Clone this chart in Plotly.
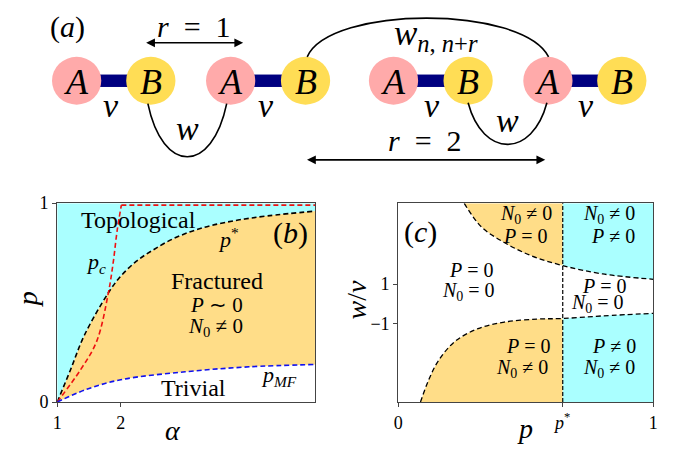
import plotly.graph_objects as go

W, H = 681, 456
FONT = "Liberation Serif"
CYAN = "#aaffff"
ORANGE = "#ffdd88"
PINK = "#ffaaaa"
YELLOW = "#ffdd55"
NAVY = "#000080"

# ---------------- Panel (b) data: phase diagram p vs alpha ----------------
alpha_pstar = [1.0, 1.207, 1.43, 1.804, 1.986, 2.244, 2.504, 2.815, 3.126, 3.437, 3.852, 4.318, 5.07]
p_pstar = [0.0, 0.16, 0.337, 0.548, 0.627, 0.707, 0.763, 0.819, 0.859, 0.888, 0.915, 0.936, 0.96]
alpha_pc = [1.0, 1.363, 1.622, 1.804, 1.882, 1.944, 2.011]
p_pc = [0.0, 0.16, 0.305, 0.545, 0.70, 0.86, 0.99]
alpha_pc_flat = [2.011, 5.07]
p_pc_flat = [0.99, 0.99]
alpha_mf = [1.0, 1.466, 2.0, 3.016, 4.026, 5.07]
p_mf = [0.0, 0.064, 0.112, 0.152, 0.177, 0.189]
alpha_range = [1.0, 5.07]
b_xticks = [1, 2]
b_yticks = [0, 1]

# ---------------- Panel (c) data: w/v vs p ----------------
p_star = 0.645
up_p = [0.259, 0.326, 0.416, 0.519, 0.645, 0.802, 1.0]
up_w = [5.06, 3.88, 3.09, 2.44, 1.93, 1.51, 1.24]
lo_p = [0.0875, 0.12, 0.158, 0.223, 0.313, 0.416, 0.544, 0.645, 0.802, 1.0]
lo_w = [-4.93, -3.81, -2.85, -1.88, -1.24, -0.91, -0.76, -0.73, -0.60, -0.47]
c_yrange = [-4.93, 5.07]
c_yticks = [1, -1]
c_yticklabels = ["1", "\u22121"]
c_xticks = [0, p_star, 1]
c_xticklabels = ["0", "<i>p</i><sup>*</sup>", "1"]

# ---------------- Panel (a) schematic layout (pixel units) ----------------
A_x = [72.7, 229.0, 394.3, 551.0]
B_x = [148.0, 305.0, 470.0, 626.0]
node_y = 74.0
node_r = 25.0
v_label_x = [108, 265, 433, 590]
v_label_y = 100
w_curves = [(145, 98, 225, 98, 172), (470, 97, 550, 97, 155)]
w_labels = [(185, 124), (510, 116)]

fig = go.Figure()

# ---- panel (b) fills ----
fig.add_trace(go.Scatter(x=alpha_mf, y=p_mf, mode="lines", line=dict(width=0, shape="spline"),
                         xaxis="x", yaxis="y", hoverinfo="skip", showlegend=False))
fig.add_trace(go.Scatter(x=alpha_pstar, y=p_pstar, mode="lines", line=dict(width=0, shape="spline"),
                         fill="tonexty", fillcolor=ORANGE, xaxis="x", yaxis="y", hoverinfo="skip", showlegend=False))
fig.add_trace(go.Scatter(x=alpha_pstar, y=p_pstar, mode="lines", line=dict(width=0, shape="spline"),
                         xaxis="x", yaxis="y", hoverinfo="skip", showlegend=False))
fig.add_trace(go.Scatter(x=alpha_range, y=[1, 1], mode="lines", line=dict(width=0),
                         fill="tonexty", fillcolor=CYAN, xaxis="x", yaxis="y", hoverinfo="skip", showlegend=False))
# ---- panel (b) lines ----
fig.add_trace(go.Scatter(x=alpha_pstar, y=p_pstar, mode="lines",
                         line=dict(color="black", width=1.6, dash="5px,3px", shape="spline"),
                         xaxis="x", yaxis="y", showlegend=False))
fig.add_trace(go.Scatter(x=alpha_pc, y=p_pc, mode="lines",
                         line=dict(color="#ee1111", width=1.6, dash="5px,3px", shape="spline"),
                         xaxis="x", yaxis="y", showlegend=False))
fig.add_trace(go.Scatter(x=alpha_pc_flat, y=p_pc_flat, mode="lines",
                         line=dict(color="#ee1111", width=1.6, dash="5px,3px"),
                         xaxis="x", yaxis="y", showlegend=False))
fig.add_trace(go.Scatter(x=alpha_mf, y=p_mf, mode="lines",
                         line=dict(color="#1111ee", width=1.6, dash="5px,3px", shape="spline"),
                         xaxis="x", yaxis="y", showlegend=False))

# ---- panel (c) fills ----
def split(ps, ws, left):
    xs, ys = [], []
    for p, w in zip(ps, ws):
        if (left and p <= p_star) or ((not left) and p >= p_star):
            xs.append(p)
            ys.append(w)
    return xs, ys

for left, color in [(True, ORANGE), (False, CYAN)]:
    xs, ys = split(up_p, up_w, left)
    fig.add_trace(go.Scatter(x=xs, y=[c_yrange[1]] * len(xs), mode="lines", line=dict(width=0),
                             xaxis="x2", yaxis="y2", hoverinfo="skip", showlegend=False))
    fig.add_trace(go.Scatter(x=xs, y=ys, mode="lines", line=dict(width=0, shape="spline"),
                             fill="tonexty", fillcolor=color, xaxis="x2", yaxis="y2",
                             hoverinfo="skip", showlegend=False))
    xs, ys = split(lo_p, lo_w, left)
    fig.add_trace(go.Scatter(x=xs, y=[c_yrange[0]] * len(xs), mode="lines", line=dict(width=0),
                             xaxis="x2", yaxis="y2", hoverinfo="skip", showlegend=False))
    fig.add_trace(go.Scatter(x=xs, y=ys, mode="lines", line=dict(width=0, shape="spline"),
                             fill="tonexty", fillcolor=color, xaxis="x2", yaxis="y2",
                             hoverinfo="skip", showlegend=False))

for xs, ys in [(up_p, up_w), (lo_p, lo_w)]:
    fig.add_trace(go.Scatter(x=xs, y=ys, mode="lines",
                             line=dict(color="black", width=1.3, dash="5px,3px", shape="spline"),
                             xaxis="x2", yaxis="y2", showlegend=False))

# dummy trace for overlay axis
fig.add_trace(go.Scatter(x=[0], y=[0], mode="markers", marker=dict(opacity=0),
                         xaxis="x3", yaxis="y3", hoverinfo="skip", showlegend=False))

shapes = []
# vertical p* line in (c)
shapes.append(dict(type="line", xref="x2", yref="y2 domain", x0=p_star, x1=p_star, y0=0, y1=1,
                   line=dict(color="black", width=1.2, dash="4px,2px")))

# ---- panel (a) schematic ----
def p3(**kw):
    d = dict(xref="x3", yref="y3")
    d.update(kw)
    return d

for ax_, bx_ in zip(A_x, B_x):
    shapes.append(p3(type="rect", x0=ax_ + node_r - 2, x1=bx_ - node_r + 2, y0=node_y - 6.5, y1=node_y + 6.5,
                     fillcolor=NAVY, line=dict(width=0)))
for xs_, col in [(A_x, PINK), (B_x, YELLOW)]:
    for cx in xs_:
        shapes.append(p3(type="circle", x0=cx - node_r, x1=cx + node_r, y0=node_y - node_r, y1=node_y + node_r,
                         fillcolor=col, line=dict(width=0)))
for (x0, y0, x1, y1, cy) in w_curves:
    shapes.append(p3(type="path", path=f"M {x0},{y0} C {x0+15},{cy} {x1-15},{cy} {x1},{y1}",
                     line=dict(color="black", width=1.6)))
# long-range hopping arc
shapes.append(p3(type="path", path="M 306.7,49 C 330,-5 525,-5 551.7,49",
                 line=dict(color="black", width=1.6)))

annotations = []
def txt(x, y, s, size, **kw):
    d = dict(x=x, y=y, xref="x3", yref="y3", text=s, showarrow=False,
             font=dict(family=FONT, size=size, color="black"), xanchor="center", yanchor="middle")
    d.update(kw)
    annotations.append(d)

NB = "\u00a0"
for cx in A_x:
    txt(cx, node_y + 1, "<i>A</i>", 36)
for cx in B_x:
    txt(cx, node_y + 1, "<i>B</i>", 36)
for vx in v_label_x:
    txt(vx, v_label_y, "<i>v</i>", 34)
for (wx, wy) in w_labels:
    txt(wx, wy, "<i>w</i>", 34)
txt(63, 18, "(<i>a</i>)", 30)
txt(192, 17, f"<i>r</i>{NB} ={NB} 1", 30)
txt(426.7, 137, f"<i>r</i>{NB} ={NB} 2", 30)
txt(437, 27, f"<i>w</i><sub><i>n</i>,{NB}<i>n</i>+<i>r</i></sub>", 35)

# arrows
for (xa, xb, ya) in [(141.7, 241.7, 34.3), (305.0, 548.3, 156.7)]:
    annotations.append(dict(x=xb, y=ya, ax=xa, ay=ya, xref="x3", yref="y3", axref="x3", ayref="y3",
                            text="", showarrow=True, arrowhead=2, arrowside="end+start",
                            arrowsize=1.1, arrowwidth=1.6, arrowcolor="black"))

# panel (b) texts
txt(135, 219.7, "Topological", 24)
txt(289.3, 233, "(<i>b</i>)", 30)
txt(226.7, 238, "<i>p</i><sup>*</sup>", 22)
txt(92, 265, "<i>p</i><sub><i>c</i></sub>", 22)
txt(215, 283, "Fractured", 24)
txt(215, 308.3, "<i>P</i> \u223c 0", 21)
txt(213.3, 331.7, "<i>N</i><sub>0</sub> \u2260 0", 21)
txt(278.3, 383.3, "<i>p</i><sub><i>MF</i></sub>", 22)
txt(191.7, 395, "Trivial", 24)
txt(23, 303, "<i>p</i>", 28, textangle=-90)
txt(170, 440, "<i>\u03b1</i>", 28)

# panel (c) texts
txt(421.7, 231.7, "(<i>c</i>)", 30)
txt(528.3, 214, "<i>N</i><sub>0</sub> \u2260 0", 20)
txt(528.3, 236, "<i>P</i> = 0", 20)
txt(613.3, 214, "<i>N</i><sub>0</sub> \u2260 0", 20)
txt(616.7, 236, "<i>P</i> \u2260 0", 20)
txt(473.3, 271.7, "<i>P</i> = 0", 20)
txt(470, 294, "<i>N</i><sub>0</sub> = 0", 20)
txt(608.3, 288.5, "<i>P</i> = 0", 20)
txt(601.7, 307, "<i>N</i><sub>0</sub> = 0", 20)
txt(531.7, 351.7, "<i>P</i> = 0", 20)
txt(525, 375, "<i>N</i><sub>0</sub> \u2260 0", 20)
txt(618.3, 351.7, "<i>P</i> \u2260 0", 20)
txt(613.3, 375, "<i>N</i><sub>0</sub> \u2260 0", 20)
txt(357, 303, "<i>w</i>/<i>v</i>", 28, textangle=-90)
txt(528, 438, "<i>p</i>", 28)

axis_common = dict(showgrid=False, zeroline=False, showline=True, mirror=True, linecolor="#444",
                   linewidth=1, ticks="outside", ticklen=4, tickcolor="#444",
                   tickfont=dict(family=FONT, size=18, color="black"), fixedrange=True)

fig.update_layout(
    width=W, height=H, margin=dict(l=0, r=0, t=0, b=0),
    font=dict(family=FONT),
    paper_bgcolor="white", plot_bgcolor="rgba(0,0,0,0)",
    xaxis=dict(domain=[53 / W, 315 / W], range=alpha_range, tickvals=b_xticks,
               ticktext=[str(t) for t in b_xticks], anchor="y", **axis_common),
    yaxis=dict(domain=[(H - 410) / H, (H - 202) / H], range=[0, 1], tickvals=b_yticks,
               ticktext=[str(t) for t in b_yticks], anchor="x", **axis_common),
    xaxis2=dict(domain=[399 / W, 658 / W], range=[0, 1], tickvals=c_xticks, ticktext=c_xticklabels,
                anchor="y2", **axis_common),
    yaxis2=dict(domain=[(H - 410) / H, (H - 202) / H], range=c_yrange, tickvals=c_yticks,
                ticktext=c_yticklabels, anchor="x2", **axis_common),
    xaxis3=dict(domain=[0, 1], range=[0, W], visible=False, anchor="y3", fixedrange=True),
    yaxis3=dict(domain=[0, 1], range=[H, 0], visible=False, anchor="x3", fixedrange=True),
    shapes=shapes, annotations=annotations, showlegend=False,
)

fig.write_html("out.html")
